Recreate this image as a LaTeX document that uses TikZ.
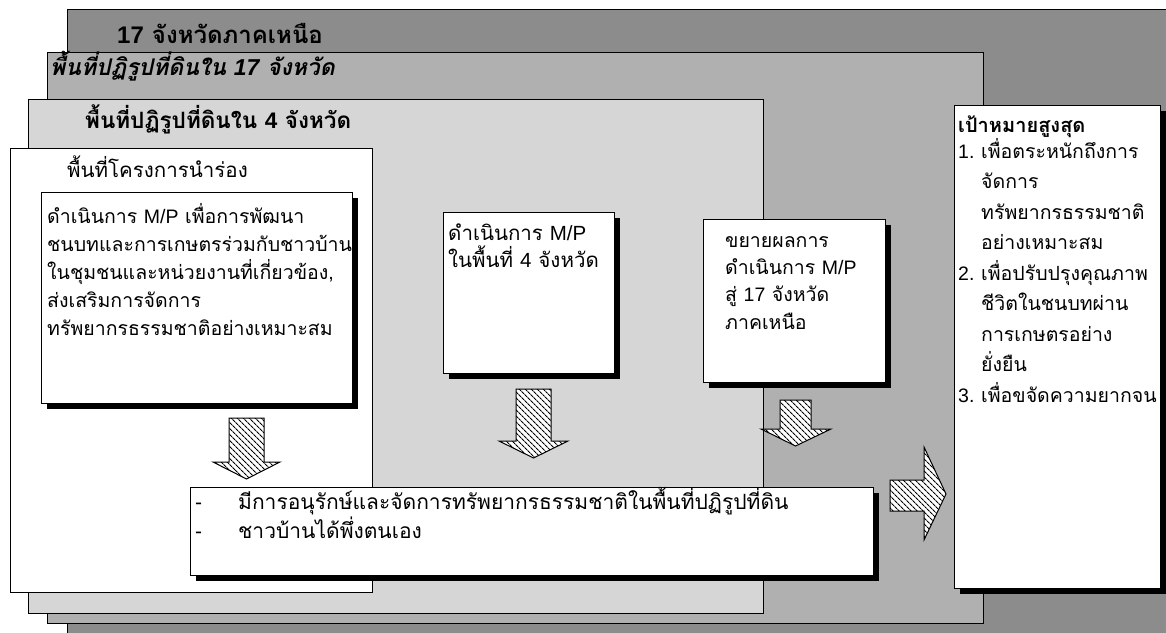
\documentclass[tikz,border=0pt]{standalone}
\usepackage{fontspec}
\setmainfont[Script=Thai,
  BoldFont={Loma Bold},
  ItalicFont={Loma Oblique},
  BoldItalicFont={Loma Bold Oblique}]{Loma}
\newfontfamily\latfont{Liberation Sans}
\newcommand{\latn}[1]{{\latfont #1}}
\usepackage{xcolor}
\usepackage{tikz}
\definecolor{regioncolor}{RGB}{140,140,140}
\definecolor{reformcolor}{RGB}{176,176,176}
\definecolor{provincecolor}{RGB}{214,214,214}
\usetikzlibrary{patterns.meta, shadows, positioning}

\begin{document}
\begin{tikzpicture}[
    x=1pt, y=-1pt,
    area/.style={draw, line width=1.2pt, inner sep=0pt, anchor=north west},
    box/.style={draw, fill=white, line width=1.2pt, inner sep=0pt, anchor=north west},
    shadowbox/.style={box, drop shadow={shadow xshift=5pt, shadow yshift=-5pt, fill=black, opacity=1}},
    areatitle/.style={anchor=base west, inner sep=0pt, font=\bfseries\fontsize{23}{26}\selectfont},
    body/.style={anchor=base west, inner sep=0pt, align=left, font=\fontsize{19.5}{28}\selectfont},
    hatcharrow/.style={draw, line width=1pt, preaction={fill=white}, pattern={Lines[angle=-45, distance=4pt, line width=1.1pt]}}
]
    \useasboundingbox (0,0) rectangle (1166,632);
    \clip (0,0) rectangle (1166,632);

    % Nested areas
    \node[area, fill=regioncolor, minimum width=1120pt, minimum height=640pt] (north) at (67,9) {};
    \node[areatitle, font=\bfseries\fontsize{24}{26}\selectfont] (northtitle) at ([xshift=50pt, yshift=-34pt]north.north west) {\latn{17} จังหวัดภาคเหนือ};

    \node[area, fill=reformcolor, minimum width=936pt, minimum height=571pt] (reform) at (47,52) {};
    \node[areatitle, font=\bfseries\itshape\fontsize{23}{26}\selectfont] (reformtitle) at ([xshift=3pt, yshift=-23pt]reform.north west) {พื้นที่ปฏิรูปที่ดินใน \latn{17} จังหวัด};

    \node[area, fill=provincecolor, minimum width=735pt, minimum height=514pt] (province) at (28,99) {};
    \node[areatitle, font=\bfseries\fontsize{22.5}{26}\selectfont] (provincetitle) at ([xshift=57pt, yshift=-29pt]province.north west) {พื้นที่ปฏิรูปที่ดินใน \latn{4} จังหวัด};

    \node[box, minimum width=362pt, minimum height=444pt] (pilot) at (10,148) {};
    \node[body, font=\fontsize{20.5}{24}\selectfont] (pilottitle) at ([xshift=57pt, yshift=-29pt]pilot.north west) {พื้นที่โครงการนำร่อง};

    % Activity boxes
    \node[shadowbox, minimum width=311pt, minimum height=211pt] (mpbox) at (41,192) {};
    \node[body] (mptext) at ([xshift=6pt, yshift=-143pt]mpbox.north west) {%
        ดำเนินการ \latn{M/P} เพื่อการพัฒนา\\
        ชนบทและการเกษตรร่วมกับชาวบ้าน\\
        ในชุมชนและหน่วยงานที่เกี่ยวข้อง\latn{,}\\
        ส่งเสริมการจัดการ\\
        ทรัพยากรธรรมชาติอย่างเหมาะสม};

    \node[shadowbox, minimum width=171pt, minimum height=161pt] (fourbox) at (443,212) {};
    \node[body, font=\fontsize{20.5}{27}\selectfont] (fourtext) at ([xshift=5pt, yshift=-55pt]fourbox.north west) {%
        ดำเนินการ \latn{M/P}\\
        ในพื้นที่ \latn{4} จังหวัด};

    \node[shadowbox, minimum width=182pt, minimum height=163pt] (expandbox) at (703,219) {};
    \node[body, font=\fontsize{19.5}{27.3}\selectfont] (expandtext) at ([xshift=22pt, yshift=-110pt]expandbox.north west) {%
        ขยายผลการ\\
        ดำเนินการ \latn{M/P}\\
        สู่ \latn{17} จังหวัด\\
        ภาคเหนือ};

    % Result
    \node[shadowbox, minimum width=683pt, minimum height=88pt] (result) at (190,487) {};
    \node[body, font=\fontsize{21}{25}\selectfont] (resulttext) at ([xshift=5pt, yshift=-51pt]result.north west) {%
        \makebox[43pt][l]{\latn{-}}มีการอนุรักษ์และจัดการทรัพยากรธรรมชาติในพื้นที่ปฏิรูปที่ดิน\\
        \makebox[43pt][l]{\latn{-}}ชาวบ้านได้พึ่งตนเอง};

    % Goal
    \node[shadowbox, minimum width=206pt, minimum height=483pt] (goal) at (954,105) {};
    \node[body, font=\bfseries\fontsize{20}{24}\selectfont] (goaltitle) at ([xshift=4pt, yshift=-27pt]goal.north west) {เป้าหมายสูงสุด};
    \node[body, font=\fontsize{19.5}{30.5}\selectfont] (goaltext) at ([xshift=4pt, yshift=-297pt]goal.north west) {%
        \makebox[23pt][l]{\latn{1.}}เพื่อตระหนักถึงการ\\
        \hspace*{23pt}จัดการ\\
        \hspace*{23pt}ทรัพยากรธรรมชาติ\\
        \hspace*{23pt}อย่างเหมาะสม\\
        \makebox[23pt][l]{\latn{2.}}เพื่อปรับปรุงคุณภาพ\\
        \hspace*{23pt}ชีวิตในชนบทผ่าน\\
        \hspace*{23pt}การเกษตรอย่าง\\
        \hspace*{23pt}ยั่งยืน\\
        \makebox[23pt][l]{\latn{3.}}เพื่อขจัดความยากจน};

    % Block arrows
    \draw[hatcharrow] (229,418) -- (264,418) -- (264,462) -- (280,462) -- (246.5,479) -- (213,462) -- (229,462) -- cycle;
    \draw[hatcharrow] (516,389) -- (551,389) -- (551,441) -- (568,441) -- (533.5,458) -- (499,441) -- (516,441) -- cycle;
    \draw[hatcharrow] (780,400) -- (811,400) -- (811,429) -- (831,429) -- (795.5,446) -- (761,429) -- (780,429) -- cycle;
    \draw[hatcharrow] (890,480) -- (924,480) -- (924,447) -- (946,494) -- (924,540) -- (924,511) -- (890,511) -- cycle;
\end{tikzpicture}
\end{document}
